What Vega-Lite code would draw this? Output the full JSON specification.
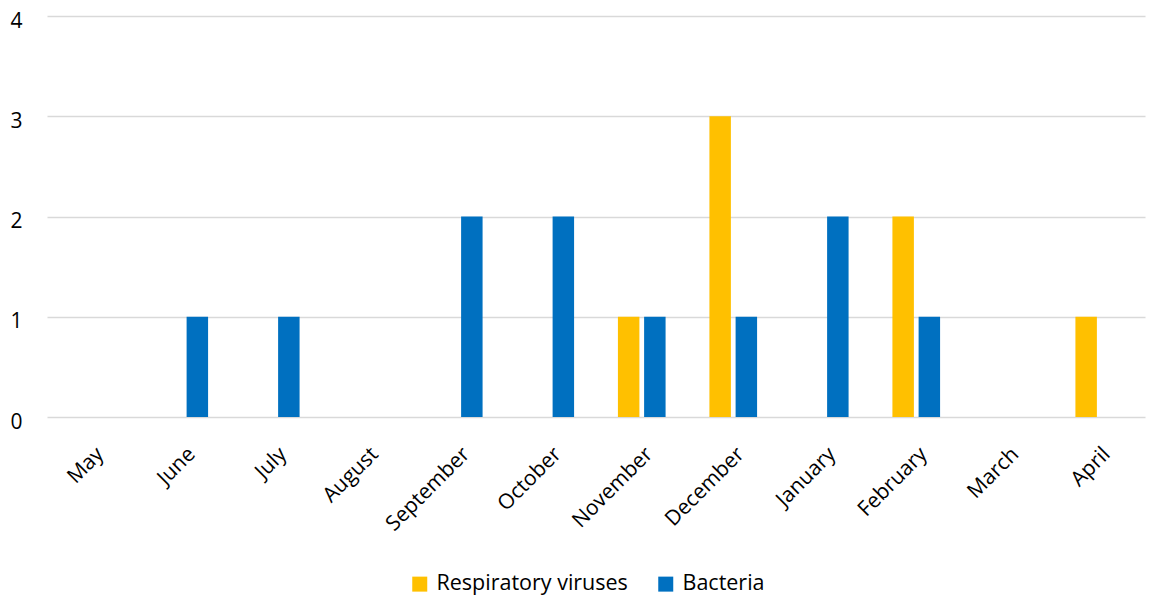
{
  "$schema": "https://vega.github.io/schema/vega-lite/v6.json",
  "autosize": {"type": "none"},
  "padding": {"left": 47, "top": 16, "right": 8, "bottom": 178},
  "width": 1098,
  "height": 401,
  "background": "white",
  "config": {
    "font": "Open Sans",
    "view": {"stroke": null}
  },
  "data": {
    "values": [
      {"month": "May", "type": "Respiratory viruses", "count": 0},
      {"month": "May", "type": "Bacteria", "count": 0},
      {"month": "June", "type": "Respiratory viruses", "count": 0},
      {"month": "June", "type": "Bacteria", "count": 1},
      {"month": "July", "type": "Respiratory viruses", "count": 0},
      {"month": "July", "type": "Bacteria", "count": 1},
      {"month": "August", "type": "Respiratory viruses", "count": 0},
      {"month": "August", "type": "Bacteria", "count": 0},
      {"month": "September", "type": "Respiratory viruses", "count": 0},
      {"month": "September", "type": "Bacteria", "count": 2},
      {"month": "October", "type": "Respiratory viruses", "count": 0},
      {"month": "October", "type": "Bacteria", "count": 2},
      {"month": "November", "type": "Respiratory viruses", "count": 1},
      {"month": "November", "type": "Bacteria", "count": 1},
      {"month": "December", "type": "Respiratory viruses", "count": 3},
      {"month": "December", "type": "Bacteria", "count": 1},
      {"month": "January", "type": "Respiratory viruses", "count": 0},
      {"month": "January", "type": "Bacteria", "count": 2},
      {"month": "February", "type": "Respiratory viruses", "count": 2},
      {"month": "February", "type": "Bacteria", "count": 1},
      {"month": "March", "type": "Respiratory viruses", "count": 0},
      {"month": "March", "type": "Bacteria", "count": 0},
      {"month": "April", "type": "Respiratory viruses", "count": 1},
      {"month": "April", "type": "Bacteria", "count": 0}
    ]
  },
  "mark": {"type": "bar"},
  "encoding": {
    "x": {
      "field": "month",
      "type": "nominal",
      "sort": ["May", "June", "July", "August", "September", "October", "November", "December", "January", "February", "March", "April"],
      "scale": {"paddingInner": 0.479, "paddingOuter": 0.2395},
      "axis": {
        "title": null,
        "labelAngle": -45,
        "labelFontSize": 21,
        "labelColor": "#000000",
        "labelPadding": 26,
        "labelOverlap": false,
        "labelLimit": 300,
        "domain": false,
        "ticks": false,
        "grid": false
      }
    },
    "xOffset": {
      "field": "type",
      "type": "nominal",
      "sort": ["Respiratory viruses", "Bacteria"],
      "scale": {"paddingInner": 0.18, "paddingOuter": 0}
    },
    "y": {
      "field": "count",
      "type": "quantitative",
      "scale": {"domain": [0, 4], "nice": false},
      "axis": {
        "title": null,
        "values": [0, 1, 2, 3, 4],
        "labelOverlap": false,
        "labelFontSize": 21,
        "labelColor": "#000000",
        "labelPadding": 25,
        "labelOffset": 5,
        "domain": false,
        "ticks": false,
        "gridColor": "#d9d9d9",
        "gridWidth": 1.5
      }
    },
    "color": {
      "field": "type",
      "type": "nominal",
      "sort": ["Respiratory viruses", "Bacteria"],
      "scale": {"domain": ["Respiratory viruses", "Bacteria"], "range": ["#FFC000", "#0070C0"]},
      "legend": {
        "title": null,
        "orient": "none",
        "direction": "horizontal",
        "legendX": 362,
        "legendY": 557,
        "symbolType": "square",
        "symbolSize": 225,
        "symbolStrokeWidth": 0,
        "labelFontSize": 21.5,
        "labelLimit": 400,
        "labelColor": "#000000",
        "labelOffset": 6,
        "columnPadding": 27
      }
    }
  }
}
